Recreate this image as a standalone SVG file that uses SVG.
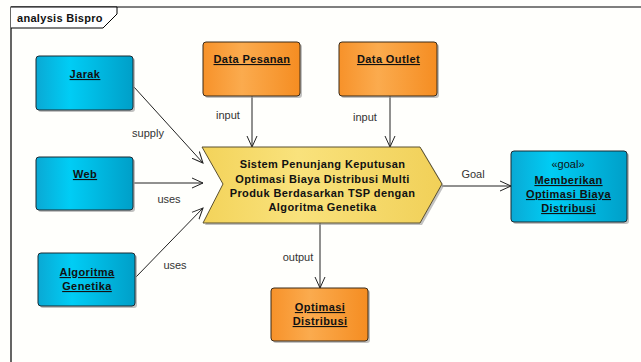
<svg xmlns="http://www.w3.org/2000/svg" width="641" height="362" viewBox="0 0 641 362">
  <defs>
    <linearGradient id="gBlue" x1="0" y1="0" x2="1" y2="0">
      <stop offset="0" stop-color="#0aa9d4"/>
      <stop offset="0.35" stop-color="#00cdf5"/>
      <stop offset="1" stop-color="#009fc8"/>
    </linearGradient>
    <linearGradient id="gOrange" x1="0" y1="0" x2="1" y2="0">
      <stop offset="0" stop-color="#f7922a"/>
      <stop offset="0.4" stop-color="#fbab4e"/>
      <stop offset="1" stop-color="#f58d22"/>
    </linearGradient>
    <linearGradient id="gYellow" x1="0" y1="0" x2="1" y2="0">
      <stop offset="0" stop-color="#f3d35a"/>
      <stop offset="0.4" stop-color="#f9e27c"/>
      <stop offset="1" stop-color="#f1d058"/>
    </linearGradient>
    <marker id="open" viewBox="0 0 12 12" refX="11" refY="6" markerWidth="12" markerHeight="12" markerUnits="userSpaceOnUse" orient="auto">
      <path d="M0,1 L11,6 L0,11" fill="none" stroke="#222" stroke-width="1"/>
    </marker>
  </defs>
  <style>
    .frame { fill: none; stroke: #000; stroke-width: 1.2; }
    .shadow { fill: #9a9a9a; opacity: 0.6; }
    .blue { fill: url(#gBlue); stroke: #1b2a33; stroke-width: 1; }
    .orange { fill: url(#gOrange); stroke: #3a2a18; stroke-width: 1; }
    .yellow { fill: url(#gYellow); stroke: #5a5030; stroke-width: 1; }
    .name { font-family: "Liberation Sans", Arial, sans-serif; font-size: 11px; font-weight: bold; letter-spacing: 0.4px; fill: #111; text-anchor: middle; text-decoration: underline; }
    .main { font-family: "Liberation Sans", Arial, sans-serif; font-size: 11px; font-weight: bold; letter-spacing: 0.4px; fill: #111; text-anchor: middle; }
    .stereo { font-family: "Liberation Sans", Arial, sans-serif; font-size: 11px; fill: #111; text-anchor: middle; }
    .lbl { font-family: "Liberation Sans", Arial, sans-serif; font-size: 11px; fill: #333; text-anchor: middle; }
    .edge { stroke: #222; stroke-width: 1; fill: none; marker-end: url(#open); }
  </style>

  <rect x="0" y="0" width="641" height="362" fill="#fffffc"/>

  <!-- diagram frame with name tab -->
  <g id="frame">
    <path class="frame" d="M11,362 L11,7 L641,7"/>
    <path d="M11,7 L117,7 L117,14 L103,28 L11,28" fill="#fff" stroke="#000" stroke-width="1"/>
    <text x="17" y="22" font-family="Liberation Sans, Arial, sans-serif" font-size="11" font-weight="bold" letter-spacing="0.3" fill="#111">analysis Bispro</text>
  </g>

  <!-- connectors -->
  <g id="connectors">
    <line class="edge" x1="134" y1="87" x2="203" y2="163"/>
    <line class="edge" x1="134" y1="183" x2="203" y2="183"/>
    <line class="edge" x1="136" y1="277" x2="203" y2="208"/>
    <line class="edge" x1="252" y1="96" x2="252" y2="147"/>
    <line class="edge" x1="390" y1="96" x2="390" y2="147"/>
    <line class="edge" x1="442" y1="186" x2="511" y2="186"/>
    <line class="edge" x1="320" y1="223" x2="320" y2="288"/>
    <text class="lbl" x="148" y="137">supply</text>
    <text class="lbl" x="169" y="203">uses</text>
    <text class="lbl" x="175" y="269">uses</text>
    <text class="lbl" x="228" y="119">input</text>
    <text class="lbl" x="365" y="121">input</text>
    <text class="lbl" x="473" y="178">Goal</text>
    <text class="lbl" x="298" y="261">output</text>
  </g>

  <g id="jarak">
    <rect class="shadow" x="38" y="58" width="97" height="54" rx="3"/>
    <rect class="blue" x="36" y="56" width="97" height="54" rx="3"/>
    <text class="name" x="85" y="78">Jarak</text>
  </g>

  <g id="web">
    <rect class="shadow" x="38" y="159" width="97" height="53" rx="3"/>
    <rect class="blue" x="36" y="157" width="97" height="53" rx="3"/>
    <text class="name" x="85" y="178">Web</text>
  </g>

  <g id="algoritma-genetika">
    <rect class="shadow" x="40" y="255" width="97" height="53" rx="3"/>
    <rect class="blue" x="38" y="253" width="97" height="53" rx="3"/>
    <text class="name" x="87" y="276">Algoritma </text>
    <text class="name" x="87" y="290">Genetika</text>
  </g>

  <g id="data-pesanan">
    <rect class="shadow" x="205" y="44" width="97" height="54" rx="3"/>
    <rect class="orange" x="203" y="42" width="97" height="54" rx="3"/>
    <text class="name" x="252" y="63">Data Pesanan</text>
  </g>

  <g id="data-outlet">
    <rect class="shadow" x="341" y="44" width="98" height="54" rx="3"/>
    <rect class="orange" x="339" y="42" width="98" height="54" rx="3"/>
    <text class="name" x="388.5" y="63">Data Outlet</text>
  </g>

  <g id="sistem">
    <polygon class="shadow" points="204,149 422,149 444,186 422,225 205,225 225,186"/>
    <polygon class="yellow" points="202,147 420,147 442,184 420,223 203,223 223,184"/>
    <text class="main" x="322.5" y="168">Sistem Penunjang Keputusan</text>
    <text class="main" x="322.5" y="183">Optimasi Biaya Distribusi Multi</text>
    <text class="main" x="322.5" y="197">Produk Berdasarkan TSP dengan</text>
    <text class="main" x="322.5" y="211">Algoritma Genetika</text>
  </g>

  <g id="goal">
    <rect class="shadow" x="513" y="153" width="116" height="71" rx="3"/>
    <rect class="blue" x="511" y="151" width="116" height="71" rx="3"/>
    <text class="stereo" x="568" y="168">«goal»</text>
    <text class="name" x="568.5" y="184">Memberikan </text>
    <text class="name" x="568.5" y="198">Optimasi Biaya </text>
    <text class="name" x="568.5" y="212">Distribusi</text>
  </g>

  <g id="optimasi-distribusi">
    <rect class="shadow" x="273" y="290" width="97" height="53" rx="3"/>
    <rect class="orange" x="271" y="288" width="97" height="53" rx="3"/>
    <text class="name" x="320" y="311">Optimasi </text>
    <text class="name" x="320" y="325">Distribusi</text>
  </g>
</svg>
